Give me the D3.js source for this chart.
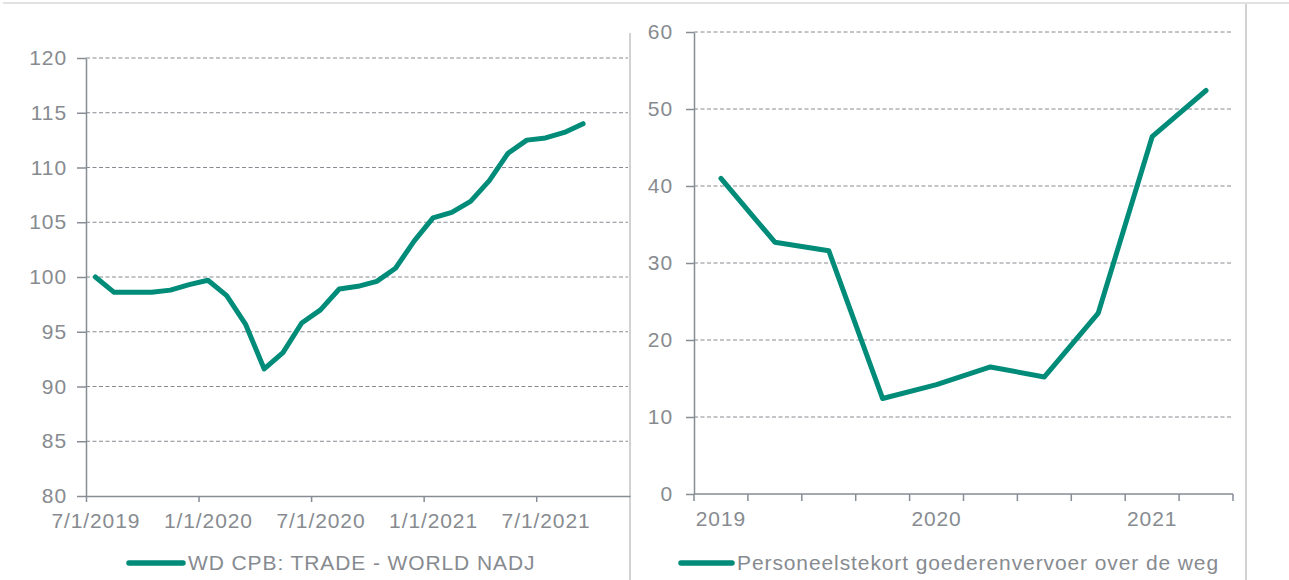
<!DOCTYPE html>
<html>
<head>
<meta charset="utf-8">
<script src="https://cdn.jsdelivr.net/npm/d3@7"></script>
<style>
  body { margin: 0; background: #fff; }
  svg text { font-family: "Liberation Sans", Arial, sans-serif; font-size: 21px; letter-spacing: 0.9px; fill: #878b90; }
</style>
</head>
<body>
<svg id="chart" width="1289" height="580"></svg>
<script>
// ---- left panel data: world trade volume (monthly, Jul 2019 - Sep 2021) ----
const tradeValues = [100.0, 98.6, 98.6, 98.6, 98.8, 99.3, 99.7, 98.3, 95.7, 91.6,
                     93.1, 95.8, 97.0, 98.9, 99.15, 99.6, 100.8, 103.3, 105.4, 105.9,
                     106.9, 108.8, 111.3, 112.5, 112.7, 113.2, 114.0];
const tradeMonthSlots = 29; // Jul 2019 .. Nov 2021 on the axis
const tradeTickMonths = [0, 6, 12, 18, 24];
const tradeTickLabels = ["7/1/2019", "1/1/2020", "7/1/2020", "1/1/2021", "7/1/2021"];
const tradeYTicks = [80, 85, 90, 95, 100, 105, 110, 115, 120];
const tradeLegend = "WD CPB: TRADE - WORLD NADJ";

// ---- right panel data: staff shortage road freight (quarterly) ----
const quarters = ["2019 K1", "2019 K2", "2019 K3", "2019 K4", "2020 K1",
                  "2020 K2", "2020 K3", "2020 K4", "2021 K1", "2021 K2"];
const shortageValues = [41.0, 32.7, 31.6, 12.4, 14.2, 16.5, 15.2, 23.5, 46.4, 52.4];
const yearLabels = { "2019 K1": "2019", "2020 K1": "2020", "2021 K1": "2021" };
const shortageYTicks = [0, 10, 20, 30, 40, 50, 60];
const shortageLegend = "Personeelstekort goederenvervoer over de weg";

const lineColor = "#008c79";
const axisColor = "#868d95";
const gridColor = "#878a90";

const svg = d3.select("#chart");

// frame lines around the panels
svg.append("line").attr("x1", 3).attr("x2", 1289).attr("y1", 3).attr("y2", 3)
   .attr("stroke", "#e2e2e2").attr("stroke-width", 2);
svg.append("line").attr("x1", 630).attr("x2", 630).attr("y1", 33).attr("y2", 580)
   .attr("stroke", "#d2d2d2").attr("stroke-width", 2);
svg.append("line").attr("x1", 1246).attr("x2", 1246).attr("y1", 4).attr("y2", 580)
   .attr("stroke", "#d2d2d2").attr("stroke-width", 2);

function styleAxis(g) {
    g.selectAll(".domain").attr("stroke", axisColor).attr("stroke-width", 1.5);
    g.selectAll(".tick line").attr("stroke", axisColor).attr("stroke-width", 1.5);
    g.selectAll("text").attr("font-size", null).attr("font-family", null).attr("fill", null);
}

// ================= left panel =================
const xL = d3.scaleLinear().domain([0, tradeMonthSlots]).range([86, 630]);
const yL = d3.scaleLinear().domain([80, 120]).range([496, 58]);

// dashed gridlines
svg.append("g").selectAll("line")
   .data(tradeYTicks.filter(v => v > 80))
   .enter().append("line")
   .attr("x1", 86).attr("x2", 628)
   .attr("y1", d => yL(d)).attr("y2", d => yL(d))
   .attr("stroke", gridColor).attr("stroke-width", 1)
   .attr("stroke-dasharray", "4,2.5");

svg.append("g")
   .attr("transform", "translate(86,0)")
   .call(d3.axisLeft(yL).tickValues(tradeYTicks).tickSize(9).tickSizeOuter(0).tickPadding(10))
   .call(styleAxis);

svg.append("g")
   .attr("transform", "translate(0,496)")
   .call(d3.axisBottom(xL).tickValues(tradeTickMonths).tickSize(6).tickSizeOuter(0).tickFormat(""))
   .call(styleAxis);

// labels sit in the middle of their month
svg.append("g")
   .attr("transform", "translate(0,496)")
   .call(d3.axisBottom(xL).tickValues(tradeTickMonths.map(m => m + 0.5))
           .tickSize(0).tickPadding(17)
           .tickFormat((d, i) => tradeTickLabels[i]))
   .call(g => g.select(".domain").remove())
   .call(styleAxis);

svg.append("path")
   .datum(tradeValues)
   .attr("fill", "none")
   .attr("stroke", lineColor)
   .attr("stroke-width", 5)
   .attr("stroke-linejoin", "round")
   .attr("stroke-linecap", "round")
   .attr("d", d3.line().x((d, i) => xL(i + 0.5)).y(d => yL(d)));

// legend
svg.append("line").attr("x1", 129).attr("x2", 183).attr("y1", 563).attr("y2", 563)
   .attr("stroke", lineColor).attr("stroke-width", 5.5).attr("stroke-linecap", "round");
svg.append("text").attr("x", 188).attr("y", 569.5).text(tradeLegend);

// ================= right panel =================
const xR = d3.scaleBand().domain(quarters).range([694, 1233]).padding(0);
const yR = d3.scaleLinear().domain([0, 60]).range([494, 32]);

svg.append("g").selectAll("line")
   .data(shortageYTicks.filter(v => v > 0))
   .enter().append("line")
   .attr("x1", 694).attr("x2", 1233)
   .attr("y1", d => yR(d)).attr("y2", d => yR(d))
   .attr("stroke", gridColor).attr("stroke-width", 1)
   .attr("stroke-dasharray", "4,2.5");

svg.append("g")
   .attr("transform", "translate(694,0)")
   .call(d3.axisLeft(yR).tickValues(shortageYTicks).tickSize(8).tickSizeOuter(0).tickPadding(13))
   .call(styleAxis);

// x axis: ticks on the quarter boundaries
const xAxisR = svg.append("g").attr("transform", "translate(0,494)");
xAxisR.append("line")
   .attr("x1", xR.range()[0]).attr("x2", xR.range()[1])
   .attr("stroke", axisColor).attr("stroke-width", 1.5);
xAxisR.selectAll(".qtick")
   .data(quarters.map(q => xR(q)).concat([xR.range()[1]]))
   .enter().append("line")
   .attr("class", "qtick")
   .attr("x1", d => d).attr("x2", d => d)
   .attr("y1", 0).attr("y2", 7)
   .attr("stroke", axisColor).attr("stroke-width", 1.5);
xAxisR.selectAll(".qlabel")
   .data(quarters.filter(q => yearLabels[q]))
   .enter().append("text")
   .attr("class", "qlabel")
   .attr("x", d => xR(d) + xR.bandwidth() / 2)
   .attr("y", 17)
   .attr("dy", "0.71em")
   .attr("text-anchor", "middle")
   .text(d => yearLabels[d]);

svg.append("path")
   .datum(shortageValues)
   .attr("fill", "none")
   .attr("stroke", lineColor)
   .attr("stroke-width", 5)
   .attr("stroke-linejoin", "round")
   .attr("stroke-linecap", "round")
   .attr("d", d3.line().x((d, i) => xR(quarters[i]) + xR.bandwidth() / 2).y(d => yR(d)));

svg.append("line").attr("x1", 681).attr("x2", 732).attr("y1", 563).attr("y2", 563)
   .attr("stroke", lineColor).attr("stroke-width", 5.5).attr("stroke-linecap", "round");
svg.append("text").attr("x", 737).attr("y", 569.5).text(shortageLegend);
</script>
</body>
</html>
